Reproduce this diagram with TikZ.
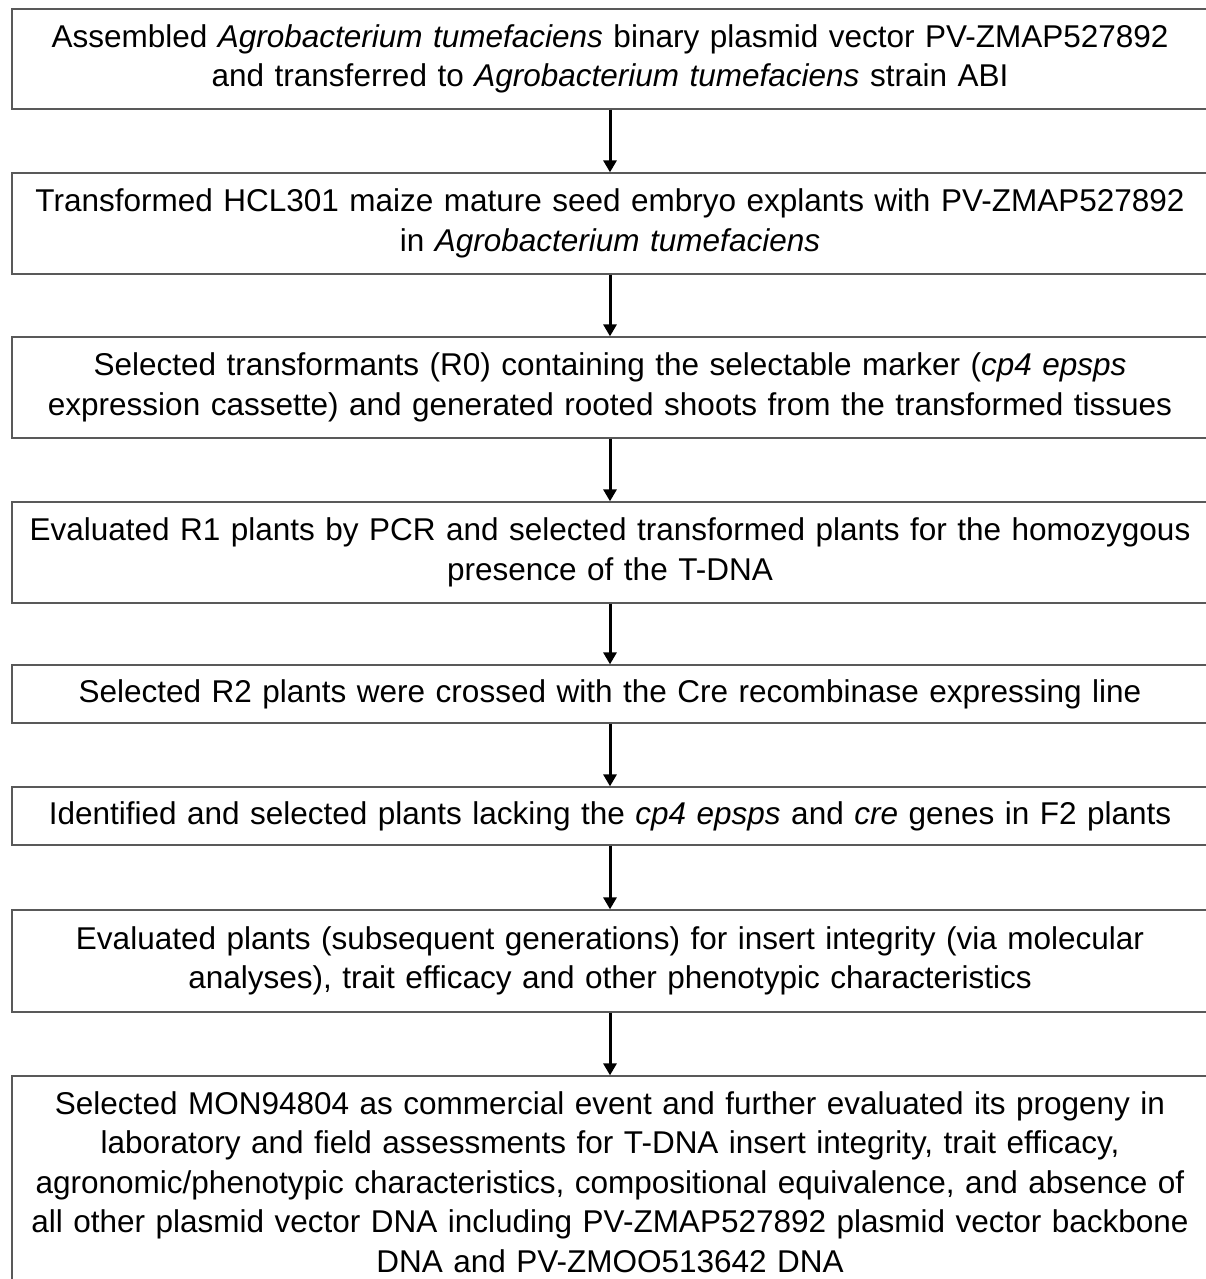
\documentclass[tikz,border=0pt]{standalone}
\usepackage{fontspec}
\setmainfont{Liberation Sans}
\usetikzlibrary{arrows.meta}

\begin{document}
\begin{tikzpicture}[x = 1pt, y = -1pt,
        stepbox/.style = {draw = black!65, line width = 1.3pt, minimum width = 1196pt,
            inner sep = 0pt, text width = 1190pt, align = center,
            font = \fontsize{31.5}{39.5}\selectfont},
        flow/.style = {-{Triangle[length = 12pt, width = 13pt]}, line width = 3pt}]
        \useasboundingbox (0, 0) rectangle (1205, 1279);

        \node[stepbox, minimum height = 100pt] (assembly) at (610, 59)
            {Assembled \textit{Agrobacterium tumefaciens} binary plasmid vector PV-ZMAP527892\\
             and transferred to \textit{Agrobacterium tumefaciens} strain ABI};
        \node[stepbox, minimum height = 101pt] (transform) at (610, 223.5)
            {Transformed HCL301 maize mature seed embryo explants with PV-ZMAP527892\\
             in \textit{Agrobacterium tumefaciens}};
        \node[stepbox, minimum height = 101pt] (select) at (610, 387.5)
            {Selected transformants (R0) containing the selectable marker (\textit{cp4 epsps}\\
             expression cassette) and generated rooted shoots from the transformed tissues};
        \node[stepbox, minimum height = 101pt] (pcr) at (610, 552.5)
            {Evaluated R1 plants by PCR and selected transformed plants for the homozygous\\
             presence of the T-DNA};
        \node[stepbox, minimum height = 58pt] (cross) at (610, 694)
            {Selected R2 plants were crossed with the Cre recombinase expressing line};
        \node[stepbox, minimum height = 58pt] (lacking) at (610, 816)
            {Identified and selected plants lacking the \textit{cp4 epsps} and \textit{cre} genes in F2 plants};
        \node[stepbox, minimum height = 102pt] (evaluate) at (610, 961)
            {Evaluated plants (subsequent generations) for insert integrity (via molecular\\
             analyses), trait efficacy and other phenotypic characteristics};
        \node[stepbox, minimum height = 212pt] (commercial) at (610, 1182)
            {Selected MON94804 as commercial event and further evaluated its progeny in\\
             laboratory and field assessments for T-DNA insert integrity, trait efficacy,\\
             agronomic/phenotypic characteristics, compositional equivalence, and absence of\\
             all other plasmid vector DNA including PV-ZMAP527892 plasmid vector backbone\\
             DNA and PV-ZMOO513642 DNA};

        \draw[flow] (assembly) -- (transform);
        \draw[flow] (transform) -- (select);
        \draw[flow] (select) -- (pcr);
        \draw[flow] (pcr) -- (cross);
        \draw[flow] (cross) -- (lacking);
        \draw[flow] (lacking) -- (evaluate);
        \draw[flow] (evaluate) -- (commercial);
    \end{tikzpicture}
\end{document}
